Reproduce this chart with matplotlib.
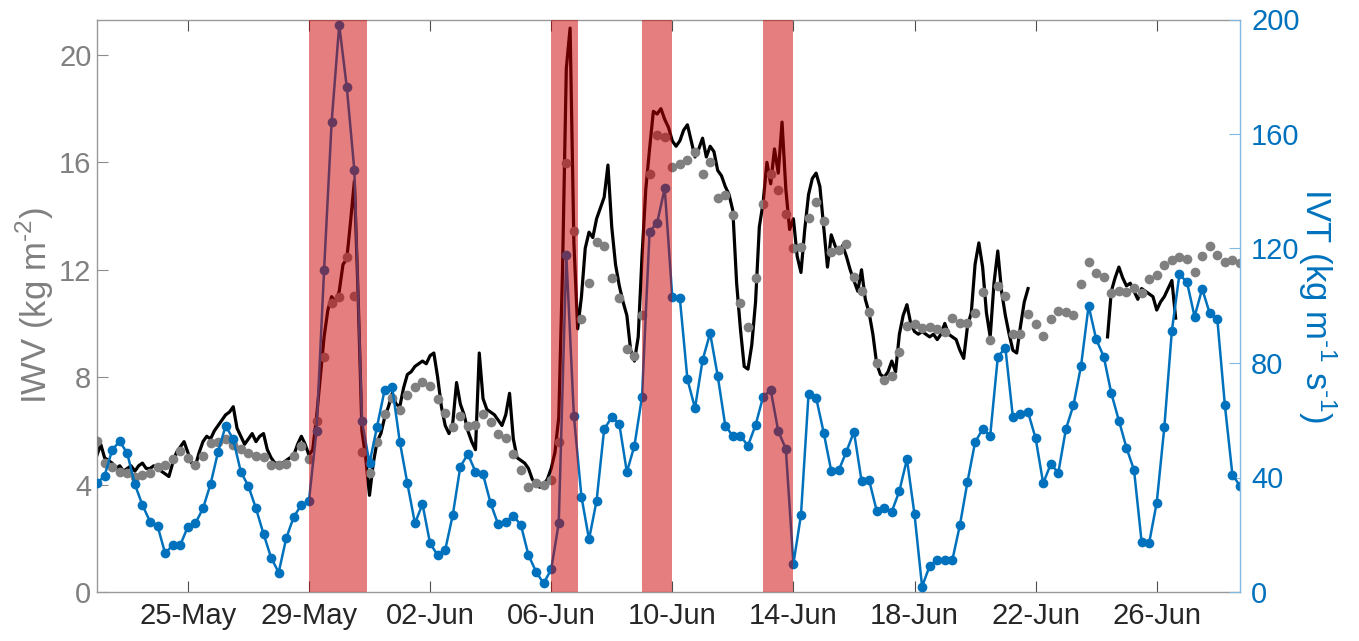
import numpy as np
import pandas as pd
import matplotlib
matplotlib.use('Agg')
import matplotlib.pyplot as plt
import matplotlib.dates as mdates

plt.rcParams['font.family'] = ['Liberation Sans', 'DejaVu Sans']
plt.rcParams['mathtext.fontset'] = 'custom'
plt.rcParams['mathtext.rm'] = 'Liberation Sans'

nan = np.nan

# 6-hourly series (22-May 00:00 .. 28-Jun 18:00)
t6 = pd.date_range('2019-05-22 00:00', periods=152, freq='6h')

ivt = [38.0, 40.6, 49.6, 52.7, 48.4, 37.6, 30.4, 24.6, 23.1, 13.5,
       16.4, 16.4, 22.8, 24.0, 29.2, 37.7, 49.0, 58.1, 53.3, 42.0,
       37.0, 29.2, 20.3, 12.0, 6.8, 18.8, 26.3, 30.4, 31.9, 56.4,
       112.5, 164.3, 198.1, 176.3, 147.3, 59.7, 45.0, 57.8, 70.6, 71.5,
       52.5, 38.0, 24.0, 30.7, 17.0, 12.9, 14.7, 26.9, 43.8, 48.2,
       42.0, 41.1, 31.0, 23.6, 24.6, 26.6, 23.4, 12.9, 7.1, 3.0,
       7.9, 24.0, 117.7, 61.5, 33.3, 18.4, 31.9, 56.9, 61.0, 58.7,
       41.9, 51.1, 68.2, 125.9, 129.0, 141.0, 103.0, 102.6, 74.3, 64.2,
       81.0, 90.4, 75.5, 58.1, 54.5, 54.5, 51.1, 58.3, 68.2, 70.6,
       56.2, 50.0, 9.8, 26.9, 69.1, 67.9, 55.7, 42.3, 42.6, 49.0,
       56.0, 38.9, 39.1, 28.4, 29.2, 28.1, 35.3, 46.4, 27.1, 1.9,
       9.1, 11.2, 11.2, 11.2, 23.4, 38.5, 52.3, 56.9, 54.6, 82.0,
       85.4, 61.0, 62.2, 62.8, 53.7, 38.0, 44.7, 41.7, 56.9, 65.3,
       79.0, 100.0, 88.3, 82.2, 69.4, 59.9, 50.4, 42.6, 17.6, 17.2,
       31.2, 57.5, 91.3, 111.0, 108.2, 96.2, 105.9, 97.4, 95.4, 65.3,
       40.9, 37.1]

iwv_6h = [5.62, 4.79, 4.64, 4.48, 4.42, 4.29, 4.36, 4.42, 4.64, 4.73,
          4.95, 5.25, 4.98, 4.73, 5.07, 5.56, 5.60, 5.69, 5.47, 5.31,
          5.19, 5.07, 5.04, 4.73, 4.73, 4.77, 5.07, 5.45, 4.95, 6.38,
          8.75, 10.75, 10.98, 12.47, 11.04, 5.23, 4.42, 5.60, 6.62, 7.21,
          6.78, 7.34, 7.62, 7.83, 7.67, 7.18, 6.68, 6.13, 6.56, 6.18,
          6.22, 6.62, 6.34, 5.88, 5.72, 5.14, 4.54, 3.90, 4.07, 3.99,
          4.17, 5.60, 15.97, 13.46, 10.16, 11.52, 13.05, 12.90, 11.68, 10.94,
          9.04, 8.79, 10.32, 15.56, 17.02, 16.93, 15.84, 15.94, 16.09, 16.37,
          15.57, 16.03, 14.69, 14.79, 14.04, 10.78, 9.86, 11.68, 14.44, 15.57,
          14.97, 14.08, 12.80, 12.86, 13.94, 14.54, 13.83, 12.67, 12.74, 12.96,
          11.74, 11.22, 10.42, 8.52, 7.90, 8.04, 8.95, 9.91, 9.98, 9.82,
          9.88, 9.78, 9.70, 10.19, 10.01, 10.01, 10.38, 11.18, 9.39, 11.40,
          11.04, 9.60, 9.60, 10.35, 9.98, 9.53, 10.16, 10.48, 10.44, 10.32,
          11.46, 12.28, 11.87, 11.72, 11.12, 11.22, 11.19, 11.31, 11.15, 11.65,
          11.81, 12.18, 12.37, 12.49, 12.39, 11.93, 12.51, 12.89, 12.55, 12.28,
          12.37, 12.24]

# 3-hourly measured IWV (gaps as nan)
t3 = pd.date_range('2019-05-22 00:00', periods=303, freq='3h')
iwv_meas = ([5.1, 5.5, 5.0, 4.9, 4.8, 4.6, 4.7, 4.5, 4.6, 4.7,
             4.5, 4.7, 4.8, 4.6, 4.6, 4.7, 4.6, 4.5, 4.4, 4.3,
             4.8, 5.2, 5.4, 5.6, 5.2, 4.8, 4.7, 5.2, 5.6, 5.8,
             5.7, 6.0, 6.2, 6.4, 6.6, 6.7, 6.9, 6.1, 5.8, 5.5,
             5.7, 5.9, 5.6, 5.8, 5.9, 5.3, 5.0, 4.8, 4.8, 4.8,
             4.9, 5.0, 5.1, 5.5, 5.8, 5.5, 5.1, 5.3,
             6.5, 8.0, 9.5, 10.5, 11.0, 10.8, 11.2, 12.2, 12.4, 13.8,
             15.3, 11.0, 6.0, 5.0,
             3.6, 4.8, 5.6, 5.9, 6.5, 6.9, 7.4, 7.0, 6.9, 7.6,
             8.1, 8.2, 8.4, 8.5, 8.6, 8.5, 8.8, 8.9, 8.0, 6.9,
             6.2, 5.9, 6.3, 7.8, 7.0, 6.6, 6.0, 5.6, 5.3, 8.9,
             7.2, 6.8, 6.7, 6.6, 6.4, 6.2, 6.6, 7.4, 5.7, 5.0,
             4.9, 4.8, 4.6, 4.2, 4.0, 3.9, 4.0, 4.2, 4.6,
             5.2, 6.5, 12.0, 19.5, 21.0, 13.0, 9.8,
             11.0, 12.8, 13.4, 13.2, 13.9, 14.3, 14.7, 15.9, 13.6, 12.2,
             11.4, 10.8, 10.3, 9.0, 8.6, 9.5,
             12.5, 15.0, 16.5, 17.9, 17.8, 18.0, 17.6, 17.3, 16.8, 16.6,
             16.8, 17.2, 17.4, 16.8, 16.2, 16.5, 16.9, 16.2, 16.6, 16.4,
             15.7, 15.5, 15.1, 14.8, 14.2, 11.5, 9.8, 8.4, 8.3, 9.2,
             10.8, 13.6, 14.5, 16.0, 15.2, 16.5, 15.6, 17.5, 15.0, 13.5,
             13.9, 12.5, 11.9, 13.5, 14.8, 15.4, 15.6, 15.1, 13.6, 12.1,
             13.3, 12.9, 12.6, 12.9, 12.5, 12.0, 11.6, 11.2, 12.0, 10.9,
             10.4, 9.6, 8.5, 8.1, 8.0, 8.2, 8.6, 8.2, 9.6, 10.3,
             10.7, 10.0, 9.7, 9.6, 9.7, 9.6, 9.5, 9.6, 9.4, 9.6,
             10.0, 9.6, 9.5, 9.4, 9.0, 8.7, 9.9, 10.4, 12.2, 13.0,
             12.1, 10.4, 9.5, 11.5, 12.7, 11.2, 10.3, 9.6, 9.0, 8.9,
             9.9, 10.8, 11.3]
            + [nan] * 20
            + [9.5, 11.2, 11.7, 12.1, 11.7, 11.4, 11.5, 11.2, 10.9, 11.3,
               11.2, 11.1, 11.0, 10.5, 10.8, 11.0, 11.3, 11.6, 10.2]
            + [nan] * 17)

# event periods (start, end)
ev_start = ['2019-05-29 00:00', '2019-06-06 00:00', '2019-06-09 00:00', '2019-06-13 00:00']
ev_end = ['2019-05-30 22:00', '2019-06-06 21:00', '2019-06-10 00:00', '2019-06-14 00:00']

tick_dates = pd.date_range('2019-05-25', '2019-06-26', freq='4D')

blue = '#0072BD'
grey = (0.5, 0.5, 0.5)

fig = plt.figure(figsize=(13.59, 6.41), dpi=100)
ax = fig.add_axes([97 / 1359, 49 / 641, 1143 / 1359, 572.5 / 641])
ax2 = ax.twinx()

ax.plot(t3, iwv_meas, color='k', lw=2.3, zorder=2)
ax.plot(t6, iwv_6h, 'o', color=grey, ms=7, mec='none', zorder=3)
ax2.plot(t6, ivt, '-o', color=blue, lw=1.8, ms=7, mec='none', zorder=2)

for s, e in zip(ev_start, ev_end):
    ax2.axvspan(pd.Timestamp(s), pd.Timestamp(e), color=(0.8, 0.0, 0.0),
                alpha=0.5, lw=0, zorder=5)

ax.set_xlim(t6[0], t6[-1])
ax.set_ylim(0, 21.32)
ax2.set_ylim(0, 200)
ax.set_yticks([0, 4, 8, 12, 16, 20])
ax2.set_yticks([0, 40, 80, 120, 160, 200])
ax.set_xticks(tick_dates)
ax.xaxis.set_major_formatter(mdates.DateFormatter('%d-%b'))

ax.tick_params(axis='x', direction='in', top=True, length=8, width=0.8,
               color=(0.3, 0.3, 0.3), labelsize=21, labelcolor=(0.15, 0.15, 0.15), pad=7)
ax.tick_params(axis='y', direction='in', right=False, length=8, width=0.8,
               color=(0.55, 0.55, 0.55), labelsize=21, labelcolor=grey, pad=4)
ax2.tick_params(axis='y', direction='in', length=8, width=0.8,
                color=(0.5, 0.72, 0.88), labelsize=21, labelcolor=blue, pad=8)

for side in ['top', 'bottom', 'left']:
    ax.spines[side].set_color((0.6, 0.6, 0.6))
    ax.spines[side].set_linewidth(1.0)
ax.spines['right'].set_visible(False)
for side in ['top', 'bottom', 'left']:
    ax2.spines[side].set_visible(False)
ax2.spines['right'].set_color((0.5, 0.72, 0.88))
ax2.spines['right'].set_linewidth(1.0)

ax.set_ylabel('IWV (kg m$^{\\text{-2}}$)', fontsize=25, color=grey, labelpad=2)
ax2.set_ylabel('IVT (kg m$^{\\text{-1}}$ s$^{\\text{-1}}$)', fontsize=25,
               color=blue, rotation=270, labelpad=28)

fig.savefig('out.png', dpi=100)
